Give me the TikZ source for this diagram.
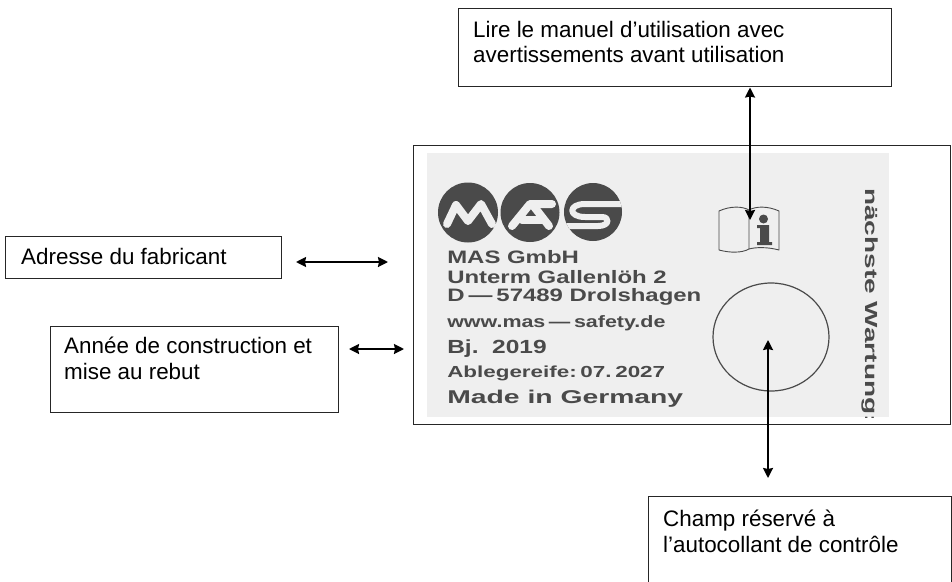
\documentclass[tikz,border=0pt]{standalone}
\usepackage{fontspec}
\setmainfont{Liberation Sans}
\usetikzlibrary{arrows.meta}
\definecolor{ink}{HTML}{4A4A4A}
\definecolor{card}{HTML}{EFEFEF}
\tikzset{
  x=1pt,y=-1pt,
  labelbox/.style={draw=black!85,line width=1pt,fill=white,rectangle,inner sep=0pt},
  labeltext/.style={anchor=north west,inner sep=0pt,font=\fontsize{22.4}{25.5}\selectfont,align=left,text=black},
  link/.style={line width=1.9pt,black,{Stealth[length=10pt,width=10pt,inset=1pt]}-{Stealth[length=10pt,width=10pt,inset=1pt]}},
  print/.style={anchor=west,inner sep=0pt,text=ink,font=\bfseries},
  logo/.style={fill=ink,draw=none},
  glyph/.style={draw=card,line width=8pt,line cap=round,line join=round},
}
\begin{document}
\begin{tikzpicture}
\useasboundingbox (0,0) rectangle (952,581);
\node[labelbox,minimum width=537pt,minimum height=279pt] (outer) at (681.5,285) {};
\fill[card] (427,153) rectangle (889,417);
% logo
\fill[logo] (468,212.5) circle (30);
\fill[logo] (530,212.5) circle (29.5);
\fill[logo] (593,212) circle (29);
\draw[glyph] (447,224) -- (456,205) -- (468,221) -- (481,204) -- (492,224);
\draw[glyph] (512,226) -- (530,204) -- (552,204);
\draw[glyph] (522,220) -- (542,220);
\draw[glyph] (532,204) -- (549,226);
\begin{scope}
\clip (593,212) circle (29);
\draw[card,line width=6pt,line cap=round,line join=round] (630,204) -- (585,204) .. controls (568,204) and (568,217) .. (585,217) -- (602,217) .. controls (610,217) and (610,226) .. (598,226) -- (560,226);
\end{scope}
% printed text
\node[print,xscale=1.33,font=\bfseries\fontsize{18}{18}\selectfont] (t1) at (447,257) {MAS GmbH};
\node[print,xscale=1.33,font=\bfseries\fontsize{18}{18}\selectfont] (t2) at (447,277) {Unterm Gallenlöh 2};
\node[print,xscale=1.33,font=\bfseries\fontsize{18}{18}\selectfont] (t3) at (447,297) {D\,—\,57489 Drolshagen};
\node[print,xscale=1.3,font=\bfseries\fontsize{16.5}{16.5}\selectfont] (t4) at (447,323) {www.mas\,—\,safety.de};
\node[print,xscale=1.29,font=\bfseries\fontsize{19}{19}\selectfont] (t5) at (447,349) {Bj.\ \ 2019};
\node[print,xscale=1.4,font=\bfseries\fontsize{16}{16}\selectfont] (t6) at (447,373) {Ablegereife:\,07.\,2027};
\node[print,xscale=1.53,font=\bfseries\fontsize{18.5}{18.5}\selectfont] (t7) at (447,399) {Made in Germany};
\begin{scope}
\clip (427,153) rectangle (889,417);
\node[print,anchor=north,rotate=-90,xscale=1.6,font=\bfseries\fontsize{17.5}{17.5}\selectfont] (t8) at (878,306) {nächste Wartung:};
\end{scope}
% book icon
\draw[ink,line width=0.9pt,line join=round]
  (719,211) .. controls (730,206) and (742,206) .. (749,210) .. controls (756,206) and (768,206) .. (779,211)
  -- (779,250) .. controls (768,247) and (756,247) .. (749,249) .. controls (742,253) and (730,253) .. (719,250) -- cycle
  (749,210) -- (749,249);
\fill[ink] (763.5,219) circle (4.5);
\fill[ink] (757,225) -- (769,225) -- (769,242) -- (772,242) -- (772,245) -- (757,245) -- (757,242) -- (760,242) -- (760,228) -- (757,228) -- cycle;
% stamp circle
\draw[ink,line width=1.2pt] (771,337) ellipse (58 and 54);
\coordinate (bookpt) at (750,220);
\coordinate (stamppt) at (768,340);
% label boxes
\node[labelbox,minimum width=433pt,minimum height=78pt] (top) at (674.5,47) {};
\node[labeltext] (toptxt) at (473,21) {Lire le manuel d’utilisation avec\\avertissements avant utilisation};
\node[labelbox,minimum width=276pt,minimum height=42pt] (addr) at (143,257) {};
\node[labeltext] (addrtxt) at (21,248) {Adresse du fabricant};
\node[labelbox,minimum width=288pt,minimum height=86pt] (year) at (194,369) {};
\node[labeltext] (yeartxt) at (64,337) {Année de construction et\\mise au rebut};
\node[labelbox,minimum width=303pt,minimum height=100pt] (field) at (799.5,546) {};
\node[labeltext] (fieldtxt) at (663,510) {Champ réservé à\\l’autocollant de contrôle};
\coordinate (a1) at (296,262);
\coordinate (a2) at (388,262);
\coordinate (y1) at (349,349);
\coordinate (y2) at (404,349);
\coordinate (fieldt) at (768,478);
\draw[link] (top.south -| bookpt) ++(0,1) -- (bookpt);
\draw[link] (a1) -- (a2);
\draw[link] (y1) -- (y2);
\draw[link] (stamppt) -- (fieldt);
\end{tikzpicture}
\end{document}
